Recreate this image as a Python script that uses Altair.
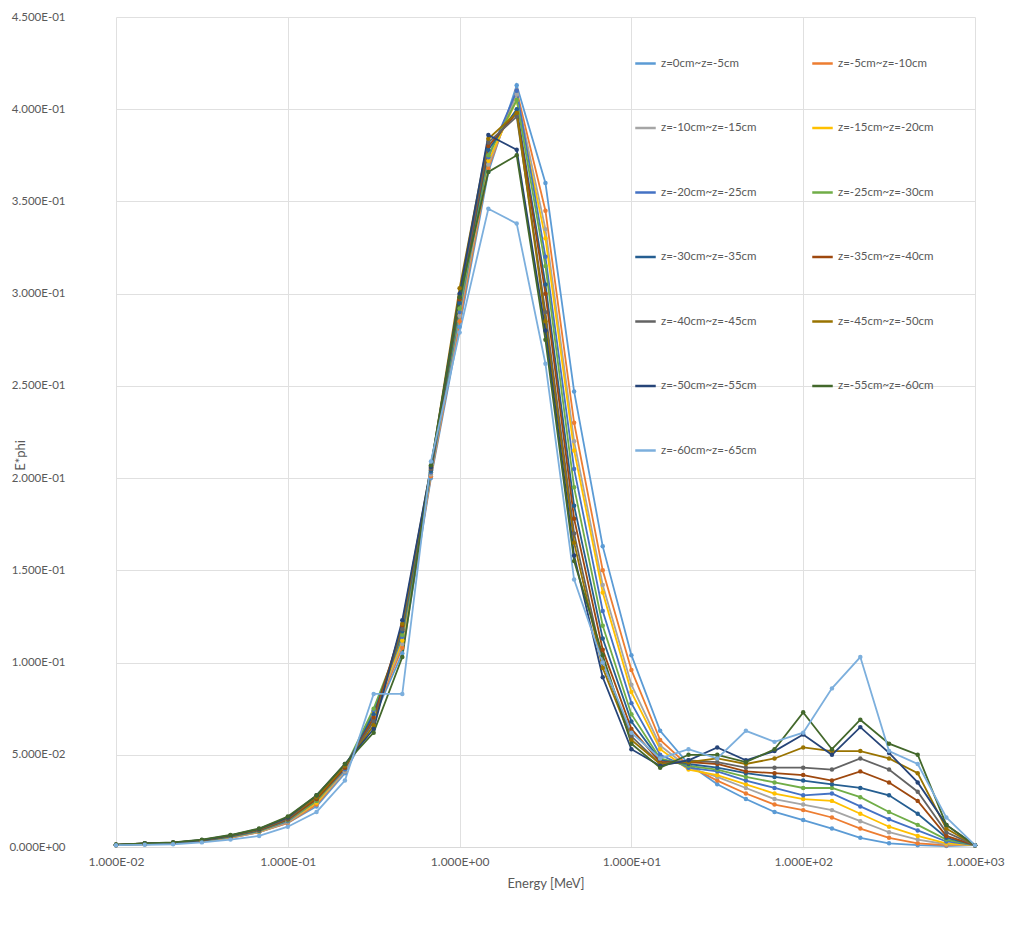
import altair as alt
import pandas as pd

energy = [0.01, 0.0147, 0.0215, 0.0316, 0.0464, 0.0681, 0.1, 0.147, 0.215, 0.316, 0.464, 0.681,
          1.0, 1.47, 2.15, 3.16, 4.64, 6.81, 10.0, 14.7, 21.5, 31.6, 46.4, 68.1,
          100.0, 147.0, 215.0, 316.0, 464.0, 681.0, 1000.0]

series_names = ["z=0cm~z=-5cm", "z=-5cm~z=-10cm", "z=-10cm~z=-15cm", "z=-15cm~z=-20cm",
                "z=-20cm~z=-25cm", "z=-25cm~z=-30cm", "z=-30cm~z=-35cm", "z=-35cm~z=-40cm",
                "z=-40cm~z=-45cm", "z=-45cm~z=-50cm", "z=-50cm~z=-55cm", "z=-55cm~z=-60cm",
                "z=-60cm~z=-65cm"]

series_colors = ["#5B9BD5", "#ED7D31", "#A5A5A5", "#FFC000", "#4472C4", "#70AD47",
                 "#255E91", "#9E480E", "#636363", "#997300", "#264478", "#43682B", "#7CAFDD"]

s00 = [0.001, 0.0015, 0.002, 0.003, 0.005, 0.008, 0.013, 0.022, 0.04, 0.07, 0.105, 0.2,
       0.282, 0.366, 0.413, 0.36, 0.247, 0.163, 0.104, 0.063, 0.045, 0.034, 0.026, 0.019,
       0.0146, 0.01, 0.005, 0.002, 0.001, 0.0005, 0.001]
s05 = [0.001, 0.0015, 0.002, 0.003, 0.005, 0.008, 0.013, 0.023, 0.041, 0.071, 0.108, 0.201,
       0.285, 0.368, 0.41, 0.345, 0.23, 0.15, 0.096, 0.058, 0.044, 0.036, 0.029, 0.023,
       0.02, 0.016, 0.01, 0.005, 0.002, 0.001, 0.001]
s10 = [0.001, 0.0016, 0.002, 0.003, 0.0052, 0.0082, 0.0135, 0.024, 0.041, 0.072, 0.11, 0.202,
       0.288, 0.37, 0.408, 0.335, 0.22, 0.142, 0.088, 0.055, 0.043, 0.038, 0.032, 0.026,
       0.023, 0.02, 0.014, 0.008, 0.004, 0.0015, 0.001]
s15 = [0.001, 0.0016, 0.0021, 0.0031, 0.0054, 0.0084, 0.014, 0.024, 0.042, 0.073, 0.112, 0.203,
       0.29, 0.372, 0.405, 0.33, 0.215, 0.138, 0.084, 0.053, 0.042, 0.039, 0.034, 0.029,
       0.026, 0.025, 0.018, 0.011, 0.006, 0.002, 0.001]
s20 = [0.001, 0.0017, 0.0021, 0.0032, 0.0055, 0.0086, 0.014, 0.025, 0.042, 0.074, 0.114, 0.203,
       0.29, 0.374, 0.41, 0.32, 0.205, 0.128, 0.078, 0.05, 0.043, 0.041, 0.036, 0.032,
       0.028, 0.029, 0.022, 0.015, 0.009, 0.003, 0.001]
s25 = [0.0011, 0.0017, 0.0022, 0.0033, 0.0056, 0.0088, 0.0145, 0.025, 0.043, 0.075, 0.115, 0.204,
       0.292, 0.375, 0.405, 0.315, 0.195, 0.12, 0.072, 0.048, 0.044, 0.042, 0.038, 0.035,
       0.032, 0.032, 0.027, 0.019, 0.012, 0.004, 0.001]
s30 = [0.0011, 0.0018, 0.0022, 0.0034, 0.0058, 0.009, 0.015, 0.026, 0.043, 0.072, 0.117, 0.204,
       0.295, 0.378, 0.40, 0.305, 0.185, 0.113, 0.068, 0.047, 0.045, 0.043, 0.04, 0.038,
       0.036, 0.034, 0.032, 0.028, 0.018, 0.005, 0.001]
s35 = [0.0011, 0.0018, 0.0023, 0.0035, 0.006, 0.0092, 0.015, 0.026, 0.043, 0.07, 0.12, 0.205,
       0.297, 0.38, 0.398, 0.30, 0.178, 0.107, 0.064, 0.046, 0.046, 0.045, 0.041, 0.04,
       0.039, 0.036, 0.041, 0.035, 0.025, 0.006, 0.001]
s40 = [0.0012, 0.0019, 0.0023, 0.0036, 0.006, 0.0094, 0.0155, 0.027, 0.044, 0.068, 0.118, 0.205,
       0.298, 0.382, 0.396, 0.29, 0.17, 0.10, 0.06, 0.045, 0.047, 0.046, 0.043, 0.043,
       0.043, 0.042, 0.048, 0.042, 0.03, 0.008, 0.001]
s45 = [0.0012, 0.0019, 0.0024, 0.0037, 0.0062, 0.0096, 0.016, 0.027, 0.044, 0.066, 0.121, 0.206,
       0.303, 0.384, 0.398, 0.285, 0.165, 0.097, 0.058, 0.045, 0.046, 0.048, 0.045, 0.048,
       0.054, 0.052, 0.052, 0.048, 0.04, 0.01, 0.001]
s50 = [0.0012, 0.002, 0.0024, 0.0038, 0.0063, 0.0098, 0.016, 0.028, 0.045, 0.064, 0.123, 0.206,
       0.30, 0.386, 0.378, 0.28, 0.158, 0.092, 0.053, 0.044, 0.047, 0.054, 0.047, 0.052,
       0.061, 0.05, 0.065, 0.051, 0.035, 0.012, 0.001]
s55 = [0.0013, 0.002, 0.0025, 0.004, 0.0065, 0.01, 0.0165, 0.028, 0.045, 0.062, 0.103, 0.207,
       0.298, 0.366, 0.375, 0.275, 0.155, 0.104, 0.056, 0.043, 0.05, 0.05, 0.046, 0.053,
       0.073, 0.053, 0.069, 0.056, 0.05, 0.012, 0.001]
s60 = [0.001, 0.0012, 0.0015, 0.0025, 0.004, 0.006, 0.011, 0.019, 0.036, 0.083, 0.083, 0.209,
       0.279, 0.346, 0.338, 0.262, 0.145, 0.1, 0.062, 0.048, 0.053, 0.048, 0.063, 0.057,
       0.062, 0.086, 0.103, 0.052, 0.045, 0.016, 0.001]

all_series = [s00, s05, s10, s15, s20, s25, s30, s35, s40, s45, s50, s55, s60]

x_tick_values = [0.01, 0.1, 1, 10, 100, 1000]
x_tick_labels = ["1.000E-02", "1.000E-01", "1.000E+00", "1.000E+01", "1.000E+02", "1.000E+03"]
y_tick_values = [0, 0.05, 0.1, 0.15, 0.2, 0.25, 0.3, 0.35, 0.4, 0.45]
y_tick_labels = ["0.000E+00", "5.000E-02", "1.000E-01", "1.500E-01", "2.000E-01",
                 "2.500E-01", "3.000E-01", "3.500E-01", "4.000E-01", "4.500E-01"]

rows = []
for name, vals in zip(series_names, all_series):
    for i, (e, v) in enumerate(zip(energy, vals)):
        rows.append({"series": name, "energy": e, "ephi": v, "order": i})
df = pd.DataFrame(rows)

x_expr = "[" + ",".join("'%s'" % s for s in x_tick_labels) + "][round(log(datum.value)/LN10)+2]"
y_expr = "[" + ",".join("'%s'" % s for s in y_tick_labels) + "][round(datum.value/0.05)]"

FONT = "Lato"

color = alt.Color(
    "series:N",
    scale=alt.Scale(domain=series_names, range=series_colors),
    sort=series_names,
    legend=alt.Legend(
        title=None, orient="none", legendX=518, legendY=35, columns=2, direction="horizontal",
        columnPadding=50, rowPadding=47.5, symbolType="stroke", symbolSize=420,
        symbolStrokeWidth=2.5, labelFont=FONT, labelFontSize=11.5, labelColor="#595959",
        labelLimit=200, labelOffset=4,
    ),
)

chart = alt.Chart(df).mark_line(
    strokeWidth=1.8,
    point=alt.OverlayMarkDef(size=20, filled=True, shape="circle"),
).encode(
    x=alt.X("energy:Q",
            scale=alt.Scale(type="log", domain=[0.01, 1000], nice=False),
            axis=alt.Axis(title="Energy [MeV]", values=x_tick_values, labelExpr=x_expr,
                          grid=True, gridColor="#E0E0E0", domainColor="#D9D9D9",
                          ticks=False, labelPadding=9, labelFlush=False, labelFont=FONT,
                          labelFontSize=12, labelColor="#595959", titleFont=FONT,
                          titleFontSize=13, titleFontWeight="normal", titleColor="#595959",
                          titlePadding=10)),
    y=alt.Y("ephi:Q",
            scale=alt.Scale(domain=[0, 0.45], nice=False),
            axis=alt.Axis(title="E*phi", values=y_tick_values, labelExpr=y_expr,
                          grid=True, gridColor="#E0E0E0", domain=False, ticks=False,
                          labelPadding=51, labelFlush=False, labelFont=FONT, labelFontSize=11.5,
                          labelColor="#595959", titleFont=FONT, titleFontSize=13,
                          titleFontWeight="normal", titleColor="#595959",
                          titleX=-89, titleY=438)),
    color=color,
    order="order:Q",
).properties(
    width=859, height=830,
    autosize=alt.AutoSizeParams(type="none"),
    padding={"left": 108, "top": 9, "right": 30, "bottom": 70},
).configure_view(stroke="transparent")

chart.save("out.html", embed_options={"renderer": "svg", "actions": False})
